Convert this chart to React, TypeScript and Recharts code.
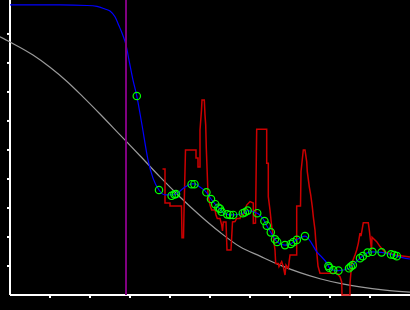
import { ComposedChart, Line, ReferenceLine, Scatter, XAxis, YAxis } from 'recharts'

// smooth reference curve (gray)
const refX = [-0.25, 0, 0.575, 1.0, 1.425, 1.825, 2.25, 2.75, 3.25, 3.75, 4.25, 4.75, 5.25, 5.75, 6.25, 6.75, 7.25, 7.75, 8.25, 8.75, 9.375, 10]
const refY = [8.9, 8.72, 8.27, 7.85, 7.36, 6.83, 6.24, 5.52, 4.8, 4.07, 3.38, 2.74, 2.16, 1.66, 1.34, 1.03, 0.77, 0.56, 0.4, 0.28, 0.17, 0.1]

// fitted curve (blue)
const fitX = [0, 1.25, 1.925, 2.175, 2.375, 2.5, 2.625, 2.725, 2.8, 2.9, 2.975, 3.075, 3.17, 3.3, 3.45, 3.575, 3.725, 3.875, 4.075, 4.15, 4.375, 4.55, 4.625, 4.75, 4.91, 5.025, 5.13, 5.21, 5.25, 5.29, 5.43, 5.5, 5.58, 5.82, 5.875, 5.94, 6.18, 6.36, 6.42, 6.52, 6.625, 6.68, 6.875, 7.02, 7.08, 7.17, 7.375, 7.675, 7.96, 7.98, 8.08, 8.21, 8.475, 8.52, 8.57, 8.75, 8.82, 8.94, 9.06, 9.29, 9.525, 9.6, 9.67, 10]
const fitY = [10, 10, 9.98, 9.95, 9.86, 9.79, 9.59, 9.28, 9.03, 8.62, 8.1, 7.41, 6.86, 5.86, 4.66, 4.03, 3.62, 3.45, 3.45, 3.48, 3.72, 3.83, 3.83, 3.72, 3.54, 3.31, 3.13, 3.01, 2.97, 2.87, 2.78, 2.76, 2.76, 2.82, 2.85, 2.91, 2.82, 2.55, 2.39, 2.16, 1.92, 1.83, 1.72, 1.76, 1.82, 1.9, 2.03, 1.48, 1.0, 0.94, 0.86, 0.84, 0.92, 0.98, 1.03, 1.27, 1.34, 1.46, 1.49, 1.47, 1.4, 1.38, 1.34, 1.24]

// measured points (green)
const ptX = [3.17, 3.725, 4.04, 4.11, 4.15, 4.54, 4.61, 4.91, 5.025, 5.13, 5.21, 5.25, 5.29, 5.43, 5.5, 5.58, 5.82, 5.875, 5.94, 6.18, 6.36, 6.42, 6.52, 6.625, 6.68, 6.875, 7.02, 7.08, 7.17, 7.375, 7.96, 7.98, 8.08, 8.21, 8.475, 8.52, 8.57, 8.75, 8.82, 8.94, 9.06, 9.29, 9.525, 9.6, 9.67]
const ptY = [6.86, 3.62, 3.42, 3.47, 3.48, 3.82, 3.82, 3.54, 3.31, 3.13, 3.01, 2.97, 2.87, 2.78, 2.76, 2.76, 2.82, 2.85, 2.91, 2.82, 2.55, 2.39, 2.16, 1.92, 1.83, 1.72, 1.76, 1.82, 1.9, 2.03, 1.0, 0.94, 0.86, 0.84, 0.92, 0.98, 1.03, 1.27, 1.34, 1.46, 1.49, 1.47, 1.4, 1.38, 1.34]

// raw signal (red)
const rawX = [3.8125, 3.875, 3.875, 4.0, 4.0, 4.2875, 4.3, 4.3375, 4.35, 4.3875, 4.65, 4.65, 4.7, 4.7, 4.75, 4.75, 4.7875, 4.8, 4.8575, 4.875, 4.8925, 4.9075, 4.9325, 4.95, 4.975, 5.0, 5.0425, 5.125, 5.15, 5.1825, 5.25, 5.2925, 5.3125, 5.3325, 5.4, 5.425, 5.525, 5.5625, 5.625, 5.6675, 5.75, 5.7925, 5.8325, 5.875, 5.9175, 6.0, 6.0825, 6.0825, 6.1375, 6.1675, 6.4175, 6.4175, 6.4575, 6.4575, 6.5, 6.5425, 6.5825, 6.625, 6.6425, 6.7075, 6.725, 6.7925, 6.8325, 6.875, 6.9, 6.9575, 7.0, 7.1675, 7.1675, 7.2625, 7.275, 7.3325, 7.375, 7.4175, 7.4325, 7.4825, 7.5175, 7.5575, 7.5825, 7.625, 7.6425, 7.675, 7.7, 7.75, 8.1675, 8.2075, 8.25, 8.2925, 8.3, 8.5, 8.5, 8.5425, 8.625, 8.6675, 8.7075, 8.75, 8.775, 8.8325, 8.9575, 8.9825, 9.025, 9.0375, 9.05, 9.1675, 9.25, 9.375, 9.625, 10]
const rawY = [4.34, 4.34, 3.17, 3.17, 3.07, 3.07, 1.97, 1.97, 2.86, 5.0, 5.0, 4.72, 4.72, 4.41, 4.41, 5.69, 6.38, 6.72, 6.72, 6.21, 5.86, 5.07, 4.14, 3.45, 3.28, 3.1, 2.93, 2.93, 2.76, 2.64, 2.64, 2.41, 2.21, 2.52, 2.52, 1.55, 1.55, 2.52, 2.53, 2.64, 2.64, 2.82, 2.76, 2.93, 3.1, 3.22, 3.17, 2.47, 2.48, 5.71, 5.71, 4.54, 4.54, 3.39, 2.93, 2.36, 2.01, 1.55, 1.09, 1.09, 0.98, 1.15, 0.98, 0.69, 1.03, 0.92, 1.38, 1.38, 3.07, 3.07, 4.25, 5.0, 5.0, 4.6, 4.25, 3.73, 3.45, 3.04, 2.7, 2.24, 1.9, 1.38, 1.0, 0.75, 0.75, 0.69, 0.63, 0.45, 0, 0, 0.41, 1.09, 1.38, 1.55, 1.78, 2.13, 2.03, 2.49, 2.49, 2.24, 1.72, 1.55, 1.99, 1.84, 1.67, 1.48, 1.38, 1.31]

const tickValues = [1, 2, 3, 4, 5, 6, 7, 8, 9]
const cutX = 2.9
const xMin = -0.25
const xMax = 10
const yMin = -0.1034
const yMax = 10.17

const zip = (xs: number[], ys: number[]) => xs.map((x, i) => ({ x, y: ys[i] }))

const refData = zip(refX, refY)
const fitData = zip(fitX, fitY)
const ptData = zip(ptX, ptY)
const rawData = zip(rawX, rawY)

const ringShape = (props: any) => (
  <circle cx={props.cx} cy={props.cy} r={3.7} fill="none" stroke="#00ff00" strokeWidth={1.2} />
)

export default function App() {
  return (
    <div style={{ position: 'absolute', left: 0, top: 0, width: 410, height: 310, background: '#000' }}>
      <ComposedChart width={410} height={310} margin={{ top: 0, right: 0, bottom: 12, left: 0 }}>
        <XAxis dataKey="x" type="number" domain={[xMin, xMax]} hide />
        <YAxis dataKey="y" type="number" domain={[yMin, yMax]} hide />

        {/* axes drawn by hand: the y axis sits at x = 0, inside the plot */}
        <ReferenceLine segment={[{ x: 0, y: 0 }, { x: 0, y: yMax }]} stroke="#fff" strokeWidth={2} />
        <ReferenceLine segment={[{ x: 0, y: 0 }, { x: xMax, y: 0 }]} stroke="#fff" strokeWidth={2} />
        {tickValues.map((t) => (
          <ReferenceLine key={`yt${t}`} segment={[{ x: -0.075, y: t }, { x: 0, y: t }]} stroke="#fff" strokeWidth={2} />
        ))}
        {tickValues.map((t) => (
          <ReferenceLine key={`xt${t}`} segment={[{ x: t, y: 0 }, { x: t, y: yMin }]} stroke="#fff" strokeWidth={2} />
        ))}

        <Line data={refData} dataKey="y" type="monotone" stroke="#9a9a9a" strokeWidth={1.2} dot={false} activeDot={false} isAnimationActive={false} />
        <Line data={rawData} dataKey="y" type="linear" stroke="#cc0000" strokeWidth={1.5} dot={false} activeDot={false} isAnimationActive={false} />
        <Line data={fitData} dataKey="y" type="monotone" stroke="#0000ff" strokeWidth={1.2} dot={false} activeDot={false} isAnimationActive={false} />
        <Scatter data={ptData} dataKey="y" shape={ringShape} isAnimationActive={false} />
        <ReferenceLine segment={[{ x: cutX, y: 0 }, { x: cutX, y: yMax }]} stroke="#800080" strokeWidth={2} />
      </ComposedChart>
    </div>
  )
}
